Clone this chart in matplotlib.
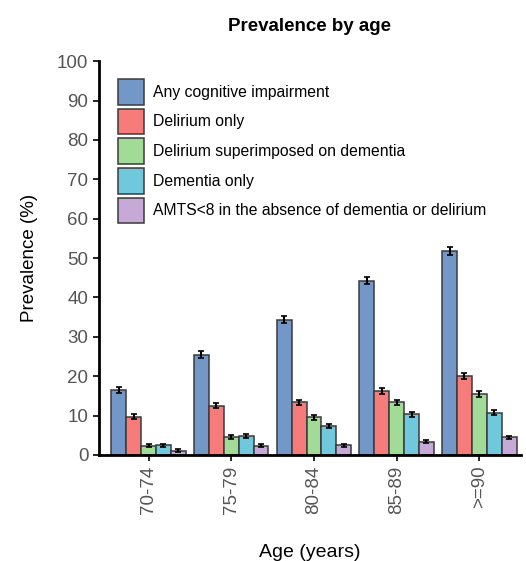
import numpy as np
import matplotlib
matplotlib.use("Agg")
import matplotlib.pyplot as plt

plt.rcParams['font.family'] = ['Liberation Sans', 'DejaVu Sans']

age_groups = ['70-74', '75-79', '80-84', '85-89', '>=90']
series = ['Any cognitive impairment', 'Delirium only',
          'Delirium superimposed on dementia', 'Dementia only',
          'AMTS<8 in the absence of dementia or delirium']

any_ci = [16.5, 25.4, 34.3, 44.2, 51.8]
delirium = [9.7, 12.5, 13.4, 16.2, 20.0]
del_dem = [2.3, 4.6, 9.6, 13.4, 15.5]
dementia = [2.5, 4.8, 7.4, 10.3, 10.7]
amts = [1.1, 2.3, 2.5, 3.4, 4.5]

err_any = [0.8, 0.9, 0.9, 0.9, 0.9]
err_del = [0.6, 0.6, 0.6, 0.7, 0.7]
err_dd = [0.4, 0.5, 0.6, 0.6, 0.7]
err_dem = [0.4, 0.5, 0.5, 0.6, 0.6]
err_amts = [0.3, 0.4, 0.4, 0.4, 0.4]

colors = ['#7397c7', '#f67b7b', '#a2db97', '#6fc8dc', '#c6a9d7']

values = [any_ci, delirium, del_dem, dementia, amts]
errors = [err_any, err_del, err_dd, err_dem, err_amts]

fig = plt.figure(figsize=(5.26, 5.61), dpi=100)
ax = fig.add_axes([0.188, 0.189, 0.802, 0.702])

x = np.arange(len(age_groups))
w = 0.18
for i, (vals, errs) in enumerate(zip(values, errors)):
    ax.bar(x + (i - 2) * w, vals, w, yerr=errs, color=colors[i],
           edgecolor='#3a3a3a', linewidth=1.1, label=series[i],
           error_kw=dict(ecolor='black', elinewidth=1.5, capsize=2, capthick=1.2))

ax.set_xlim(-0.6, 4.5)
ax.set_ylim(0, 100)
ax.set_yticks(range(0, 101, 10))
ax.set_xticks(x)
ax.set_xticklabels(age_groups, rotation=90)

for s in ['top', 'right']:
    ax.spines[s].set_visible(False)
for s in ['left', 'bottom']:
    ax.spines[s].set_linewidth(2)
ax.tick_params(axis='both', colors='#555555', labelsize=13.5, length=4, width=1.2)
ax.tick_params(axis='both', color='black')

ax.set_ylabel('Prevalence (%)', fontsize=13.5, labelpad=14)
ax.set_xlabel('Age (years)', fontsize=14, labelpad=22)
ax.set_title('Prevalence by age', fontsize=13.5, fontweight='bold', pad=22)

ax.legend(loc='upper left', bbox_to_anchor=(0.045, 0.955), frameon=False,
          fontsize=11.3, handlelength=1.65, handleheight=2.15,
          labelspacing=0.25, handletextpad=0.6, borderpad=0, borderaxespad=0)

fig.savefig('out.png', dpi=100)
